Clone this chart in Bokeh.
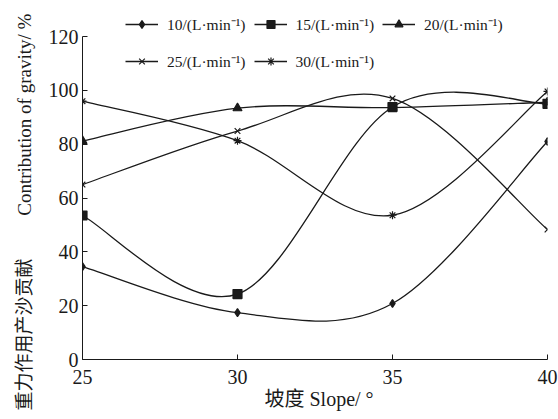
import numpy as np
from bokeh.plotting import figure
from bokeh.models import Range1d, FixedTicker, Legend, LegendItem, ColumnDataSource, Title
from bokeh.embed import file_html
from bokeh.resources import INLINE

# ---- data ----
slopes = [25, 30, 35, 40]
flow_labels = ["10/(L·min⁻¹)", "15/(L·min⁻¹)", "20/(L·min⁻¹)",
               "25/(L·min⁻¹)", "30/(L·min⁻¹)"]
q10 = [34.5, 17.4, 20.8, 81.0]
q15 = [53.5, 24.3, 93.8, 95.0]
q20 = [81.2, 93.4, 93.6, 95.6]
q25 = [65.0, 84.9, 97.0, 48.3]
q30 = [96.0, 81.3, 53.6, 99.6]
series = [q10, q15, q20, q25, q30]
markers = ["diamond", "square", "triangle", "x", "asterisk"]
marker_sizes = [8, 9, 9, 8, 8]
x_ticks = [25, 30, 35, 40]
y_ticks = [0, 20, 40, 60, 80, 100, 120]
x_title = "坡度  Slope/ °"
y_title = "重力作用产沙贡献\u2003\u2003 Contribution of gravity/ %"

SERIF = "'Liberation Serif', 'Noto Sans CJK SC'"
INK = "#1a1a1a"

p = figure(width=558, height=419, output_backend="svg", toolbar_location=None,
           x_range=Range1d(25, 40), y_range=Range1d(0, 133.4),
           min_border_left=80, min_border_right=11, min_border_top=0,
           min_border_bottom=60)
p.outline_line_color = None
p.grid.visible = False
p.background_fill_color = "white"
p.border_fill_color = "white"

for ax in (p.xaxis[0], p.yaxis[0]):
    ax.major_tick_in = 5
    ax.major_tick_out = 0
    ax.minor_tick_line_color = None
    ax.axis_line_color = INK
    ax.major_tick_line_color = INK
    ax.major_label_text_font = SERIF
    ax.major_label_text_font_size = "20px"
    ax.major_label_text_color = INK

p.xaxis.ticker = FixedTicker(ticks=x_ticks)
p.yaxis.ticker = FixedTicker(ticks=y_ticks)
p.yaxis.bounds = (0, 120)
p.xaxis.major_label_standoff = 10
p.yaxis.major_label_standoff = 4

# axis titles
p.add_layout(Title(text=x_title, align="left", offset=182, standoff=2,
                   vertical_align="top",
                   text_font=SERIF, text_font_size="20px",
                   text_font_style="normal", text_color=INK), "below")
p.add_layout(Title(text=y_title, align="left", offset=-51, standoff=22,
                   text_font=SERIF, text_font_size="19px",
                   text_font_style="normal", text_color=INK), "left")


def bezier_source(xs, ys):
    xs = np.asarray(xs, float)
    ys = np.asarray(ys, float)
    n = len(xs)
    d = dict(x0=[], y0=[], x1=[], y1=[], cx0=[], cy0=[], cx1=[], cy1=[])
    for i in range(n - 1):
        im1 = max(i - 1, 0)
        ip2 = min(i + 2, n - 1)
        d["x0"].append(xs[i]); d["y0"].append(ys[i])
        d["x1"].append(xs[i + 1]); d["y1"].append(ys[i + 1])
        d["cx0"].append(xs[i] + (xs[i + 1] - xs[im1]) / 6)
        d["cy0"].append(ys[i] + (ys[i + 1] - ys[im1]) / 6)
        d["cx1"].append(xs[i + 1] - (xs[ip2] - xs[i]) / 6)
        d["cy1"].append(ys[i + 1] - (ys[ip2] - ys[i]) / 6)
    return ColumnDataSource(d)


items = []
for vals, mk, ms, lab in zip(series, markers, marker_sizes, flow_labels):
    p.bezier(x0="x0", y0="y0", x1="x1", y1="y1", cx0="cx0", cy0="cy0",
             cx1="cx1", cy1="cy1", source=bezier_source(slopes, vals),
             line_color=INK, line_width=1.3)
    lr = p.line(slopes, vals, line_color=INK, line_width=1.3)
    lr.visible = False
    sr = p.scatter(slopes, vals, marker=mk, size=ms, fill_color=INK,
                   line_color=INK, line_width=1.2)
    items.append(LegendItem(label=lab, renderers=[lr, sr]))


def make_legend(its, loc):
    lg = Legend(items=its, location=loc, orientation="horizontal",
                padding=0, margin=0, spacing=8, glyph_width=33,
                glyph_height=20, label_standoff=9, label_height=20,
                label_text_font=SERIF, label_text_font_size="15.5px",
                label_text_color=INK, border_line_color=None,
                background_fill_alpha=0)
    p.add_layout(lg, "center")


make_legend(items[:3], (43, 324))
make_legend(items[3:], (43, 287))

open("out.html", "w").write(file_html(p, INLINE))
